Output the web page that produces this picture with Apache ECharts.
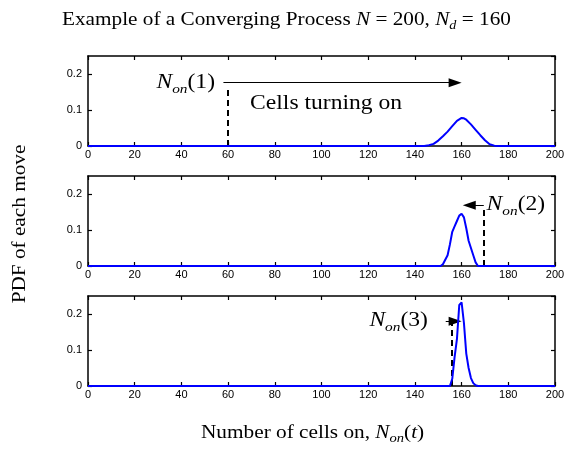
<!DOCTYPE html>
<html><head><meta charset="utf-8">
<script src="https://cdn.jsdelivr.net/npm/echarts@6/dist/echarts.min.js"></script>
<style>html,body{margin:0;padding:0;background:#fff}#c{width:569px;height:449px}</style>
</head><body><div id="c"></div>
<script>
// ---- data ----
const p1X = [0, 144, 146, 148, 150, 152, 154, 156, 158, 160, 161, 162, 164, 166, 168, 170, 172, 174, 176, 200];
const p1Y = [0, 0, 0.002, 0.006, 0.015, 0.027, 0.04, 0.055, 0.07, 0.078, 0.077, 0.073, 0.06, 0.045, 0.03, 0.016, 0.005, 0.001, 0, 0];
const p2X = [0, 151, 152, 154, 155, 156, 157, 158, 159, 160, 161, 162, 163, 164, 165, 166, 167, 200];
const p2Y = [0, 0, 0.005, 0.03, 0.06, 0.095, 0.11, 0.125, 0.14, 0.145, 0.135, 0.105, 0.07, 0.05, 0.03, 0.01, 0, 0];
const p3X = [0, 155, 156, 157, 158, 159, 160, 161, 162, 163, 164, 165, 166, 167, 200];
const p3Y = [0, 0, 0.02, 0.08, 0.13, 0.225, 0.232, 0.175, 0.09, 0.05, 0.022, 0.008, 0.002, 0, 0];

const xTicks = [0, 20, 40, 60, 80, 100, 120, 140, 160, 180, 200];
const yTicks = [0, 0.1, 0.2];

// annotations: dashed marker of N_on(k) and arrow towards N_d
const dashX = [60, 169.5, 155.8];
const dashTop = [0.164, 0.165, 0.174];
const arrowFrom = [58, 169.5, 153.2];
const arrowTip = [160, 160.5, 160];
const arrowY = [0.176, 0.169, 0.18];
const labelNum = ['1', '2', '3'];
const labelX = [54.4, 170.7, 145.6];
const labelY = [0.176, 0.169, 0.18];
const labelSide = ['right', 'left', 'right']; // text alignment at anchor
const noteText = 'Cells turning on';
const noteX = 69.4, noteY = 0.118;

const titleText = '{r|Example of a Converging Process }{i|N}{r| = 200, }{i|N}{sub|d}{r| = 160}';
const xName = '{r|Number of cells on, }{i|N}{sub|on}{r|(}{i|t}{r|)}';
const yName = 'PDF of each move';

// ---- layout ----
const SERIF = 'Liberation Serif';
const SANS = 'Liberation Sans';
function mkRich(fs) {
  return {
    r: {fontFamily: SERIF, fontSize: fs, lineHeight: fs + 6, color: '#000'},
    i: {fontFamily: SERIF, fontSize: fs, fontStyle: 'italic', lineHeight: fs + 6, color: '#000'},
    sub: {fontFamily: SERIF, fontSize: Math.round(fs * 0.66), fontStyle: 'italic', lineHeight: Math.round(fs * 0.72), verticalAlign: 'bottom', color: '#000'}
  };
}
const STRETCH = 1.18;
const tops = [56, 176, 296];
const H = 90;
const grids = tops.map(t => ({left: 88, right: 14, top: t, height: H, containLabel: false}));
const ARROW_LEN = 13, ARROW_W = 9;

const xAxes = [], yAxes = [];
const axLine = {show: true, onZero: false, lineStyle: {color: '#000', width: 1.5}};
const tick = {show: true, inside: true, length: 4, lineStyle: {color: '#000', width: 1.2}};
tops.forEach((t, i) => {
  xAxes.push({type: 'value', gridIndex: i, position: 'bottom', min: xTicks[0], max: xTicks[xTicks.length - 1], interval: xTicks[1] - xTicks[0],
    axisLine: axLine, axisTick: tick, splitLine: {show: false},
    axisLabel: {color: '#000', fontFamily: SANS, fontSize: 11, margin: 3}});
  xAxes.push({type: 'value', gridIndex: i, position: 'top', min: xTicks[0], max: xTicks[xTicks.length - 1], interval: xTicks[1] - xTicks[0],
    axisLine: axLine, axisTick: tick, splitLine: {show: false}, axisLabel: {show: false}});
  yAxes.push({type: 'value', gridIndex: i, position: 'left', min: 0, max: 0.25, interval: yTicks[1] - yTicks[0],
    axisLine: axLine, axisTick: tick, splitLine: {show: false},
    axisLabel: {color: '#000', fontFamily: SANS, fontSize: 11, margin: 6, showMaxLabel: false,
      formatter: v => v === 0 ? '0' : v.toFixed(1)}});
  yAxes.push({type: 'value', gridIndex: i, position: 'right', min: 0, max: 0.25, interval: yTicks[1] - yTicks[0],
    axisLine: axLine, axisTick: tick, splitLine: {show: false}, axisLabel: {show: false}});
});

const pxPerUnit = (569 - 88 - 14) / (xTicks[xTicks.length - 1] - xTicks[0]);
const allX = [p1X, p2X, p3X], allY = [p1Y, p2Y, p3Y];
const series = [0, 1, 2].map(i => {
  const dir = Math.sign(arrowTip[i] - arrowFrom[i]);
  const arrowEnd = arrowTip[i] - dir * (ARROW_LEN / 2) / pxPerUnit;
  return {
    type: 'line', xAxisIndex: 2 * i, yAxisIndex: 2 * i, clip: false, z: 5,
    data: allX[i].map((x, k) => [x, allY[i][k]]),
    showSymbol: false, symbol: 'none',
    lineStyle: {color: '#0000ff', width: 2}, itemStyle: {color: '#0000ff'},
    animation: false,
    markLine: {
      silent: true, animation: false, symbol: ['none', 'none'], label: {show: false},
      data: [
        [{coord: [dashX[i], 0], lineStyle: {color: '#000', width: 2, type: [6, 4]}},
         {coord: [dashX[i], dashTop[i]]}],
        [{coord: [arrowFrom[i], arrowY[i]], lineStyle: {color: '#000', width: 1, type: 'solid'}},
         {coord: [arrowEnd, arrowY[i]], symbol: 'triangle', symbolSize: [ARROW_W, ARROW_LEN]}]
      ]
    }
  };
});

const chart = echarts.init(document.getElementById('c'), null, {renderer: 'canvas'});
chart.setOption({
  animation: false,
  backgroundColor: '#fff',
  grid: grids,
  xAxis: xAxes,
  yAxis: yAxes,
  series: series
});

const gfx = [
  {type: 'text', x: 62, y: 20, scaleX: STRETCH, style: {text: titleText, rich: mkRich(18), align: 'left', verticalAlign: 'middle'}},
  {type: 'text', x: 201, y: 433, scaleX: 1.12, style: {text: xName, rich: mkRich(19), align: 'left', verticalAlign: 'middle'}},
  {type: 'text', x: 20, y: 224, rotation: Math.PI / 2, scaleX: STRETCH,
    style: {text: yName, font: '18px "Liberation Serif"', fill: '#000', align: 'center', verticalAlign: 'middle'}}
];
[0, 1, 2].forEach(i => {
  const p = chart.convertToPixel({gridIndex: i}, [labelX[i], labelY[i]]);
  gfx.push({type: 'text', x: p[0], y: p[1], scaleX: STRETCH,
    style: {text: '{i|N}{sub|on}{r|(' + labelNum[i] + ')}', rich: mkRich(20), align: labelSide[i], verticalAlign: 'middle'}});
});
const pn = chart.convertToPixel({gridIndex: 0}, [noteX, noteY]);
gfx.push({type: 'text', x: pn[0], y: pn[1], scaleX: STRETCH,
  style: {text: '{r|' + noteText + '}', rich: mkRich(20), align: 'left', verticalAlign: 'middle'}});
chart.setOption({graphic: gfx});
</script>
</body></html>
